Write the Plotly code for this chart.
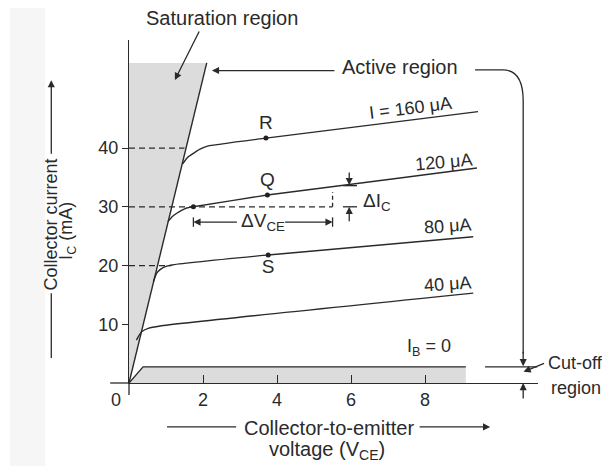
import plotly.graph_objects as go

# ---------------- data ----------------
# saturation boundary line (VCE in V, IC in mA)
vce_sat = [0, 2.1]
ic_sat = [0, 54.5]

# output characteristic curves, one per base current
curve_labels = ["I = 160 μA", "120 μA", "80 μA", "40 μA", "I<sub>B</sub> = 0"]
v_160 = [1.45, 1.58, 1.74, 1.92, 2.1, 3.7, 9.43]
i_160 = [37.3, 38.4, 39.1, 39.8, 40.3, 41.7, 46.2]
v_120 = [1.05, 1.18, 1.29, 1.42, 1.56, 1.74, 3.74, 7.32, 9.4]
i_120 = [27.5, 28.4, 28.9, 29.4, 29.8, 30.0, 32.0, 34.9, 36.6]
v_80 = [0.66, 0.75, 0.84, 0.93, 1.15, 3.76, 9.3]
i_80 = [17.3, 18.7, 19.3, 19.7, 20.1, 21.8, 24.9]
v_40 = [0.2, 0.28, 0.36, 0.52, 0.84, 9.3]
i_40 = [7.3, 8.2, 8.8, 9.3, 9.7, 15.3]
v_0 = [0, 0.38, 9.1]
i_0 = [0, 2.75, 2.75]

# labelled operating points
pt_names = ["R", "Q", "S"]
pt_v = [3.7, 3.74, 3.76]
pt_i = [41.7, 32.0, 21.8]
pt_textpos = ["top center", "top center", "bottom center"]
q_start_v = 1.74
q_start_i = 30.0

# dashed reference levels and where they end
dash_levels = [40, 30, 20]
dash_ends = [1.5, 5.5, 1.15]

# tick values
x_ticks = [2, 4, 6, 8]
y_ticks = [10, 20, 30, 40]

INK = "#2a2a2a"
FILL = "#dcdcdc"
FONT = "Liberation Sans, Arial, Helvetica, sans-serif"

fig = go.Figure()

# saturation region shading
fig.add_trace(go.Scatter(x=[vce_sat[0], vce_sat[1], 0], y=[ic_sat[0], ic_sat[1], ic_sat[1]],
                         fill="toself", fillcolor=FILL, mode="none", hoverinfo="skip"))
# cut-off region shading
fig.add_trace(go.Scatter(x=v_0 + [v_0[-1]], y=i_0 + [0], fill="toself", fillcolor=FILL,
                         mode="none", hoverinfo="skip"))
# saturation boundary line
fig.add_trace(go.Scatter(x=vce_sat, y=ic_sat, mode="lines", line=dict(color=INK, width=1.4)))

# dashed levels
for lvl, end in zip(dash_levels, dash_ends):
    fig.add_trace(go.Scatter(x=[0, end], y=[lvl, lvl], mode="lines",
                             line=dict(color=INK, width=1.3, dash="6px,4px")))

# characteristic curves
for vv, ii in [(v_160, i_160), (v_120, i_120), (v_80, i_80), (v_40, i_40)]:
    fig.add_trace(go.Scatter(x=vv, y=ii, mode="lines", line=dict(color=INK, width=1.4),
                             line_shape="spline", line_smoothing=0.5))
fig.add_trace(go.Scatter(x=v_0, y=i_0, mode="lines", line=dict(color=INK, width=1.4)))

# operating points
fig.add_trace(go.Scatter(x=pt_v, y=pt_i, mode="markers+text", text=pt_names,
                         textposition=pt_textpos, marker=dict(size=5, color="#222"),
                         textfont=dict(size=19, color=INK, family=FONT), cliponaxis=False))
fig.add_trace(go.Scatter(x=[q_start_v], y=[q_start_i], mode="markers",
                         marker=dict(size=5, color="#222")))

shapes = []
annos = []

def pline(x0, y0, x1, y1, ref="data", dash=None, width=1.3):
    d = dict(type="line", x0=x0, y0=y0, x1=x1, y1=y1,
             line=dict(color=INK, width=width, dash=dash))
    if ref == "paper":
        d.update(xref="paper", yref="paper")
    else:
        d.update(xref="x", yref="y")
    shapes.append(d)

def arrow(x, y, ax, ay, ref="data"):
    d = dict(x=x, y=y, ax=ax, ay=ay, text="", showarrow=True, arrowhead=2,
             arrowsize=1.1, arrowwidth=1.3, arrowcolor=INK)
    if ref == "paper":
        d.update(xref="paper", yref="paper")
    annos.append(d)

def text(x, y, s, size=19, ref="data", angle=0, xanchor="center"):
    d = dict(x=x, y=y, text=s, showarrow=False, textangle=angle, xanchor=xanchor,
             yanchor="middle", font=dict(size=size, color=INK, family=FONT))
    if ref == "paper":
        d.update(xref="paper", yref="paper")
    annos.append(d)

# axis overhangs
pline(-0.046, 0, 0, 0, ref="paper")
pline(0, 0, 0, -0.035, ref="paper")

# curve labels
label_pos = [(7.6, 46.9, -7), (8.5, 37.7, -5), (8.6, 26.7, -4), (8.6, 16.8, -4), (8.1, 6.1, 0)]
for lab, (lx, ly, ang) in zip(curve_labels, label_pos):
    text(lx, ly, lab, size=18, angle=ang)

# Delta VCE construction
yv = 27.4
pline(q_start_v, 26.6, q_start_v, 28.2)
pline(5.5, 26.6, 5.5, 28.2)
pline(5.5, 30.0, 5.5, 32.5, dash="4px,3px")
arrow(q_start_v, yv, 45, 0)
arrow(5.5, yv, -49, 0)
text(3.62, yv, "ΔV<sub>CE</sub>", size=19)

# Delta IC construction
pline(5.78, 30.0, 6.16, 30.0)
pline(5.78, 33.6, 6.16, 33.6)
arrow(5.95, 33.7, 0, -14)
arrow(5.95, 30.0, 0, 16)
text(6.28, 30.9, "ΔI<sub>C</sub>", size=19, xanchor="left")

# Saturation region label + arrow
text(0.227, 1.064, "Saturation region", size=20, ref="paper")
arrow(1.24, 51.6, 25, -50)

# Active region label, arrow and bracket
text(7.32, 53.8, "Active region", size=20)
arrow(2.24, 53.2, 124, 0)
shapes.append(dict(type="path", xref="x", yref="y",
                   path="M 9.35,53.3 L 10.1,53.3 Q 10.65,53.3 10.65,48.0 L 10.65,5.0",
                   line=dict(color=INK, width=1.3)))
arrow(10.65, 2.85, 0, -16)

# cut-off region marks
pline(9.62, 2.75, 11.03, 2.75)
arrow(10.65, 0, 0, 17)
arrow(10.66, 1.9, 22, -9)
text(1.019, 0.058, "Cut-off", size=18, ref="paper", xanchor="left")
text(1.026, -0.015, "region", size=18, ref="paper", xanchor="left")

# origin label
text(-0.032, -0.05, "0", size=18, ref="paper")

# y title
text(-0.193, 0.462, "Collector current", size=18, ref="paper", angle=-90)
text(-0.152, 0.443, "I<sub>C</sub> (mA)", size=18, ref="paper", angle=-90)
arrow(-0.190, 0.883, 0, 75, ref="paper")
pline(-0.190, 0.262, -0.190, 0.073, ref="paper")

# x title
text(0.489, -0.132, "Collector-to-emitter", size=20, ref="paper")
text(0.484, -0.198, "voltage (V<sub>CE</sub>)", size=20, ref="paper")
pline(0.093, -0.128, 0.262, -0.128, ref="paper")
arrow(0.883, -0.128, -72, 0, ref="paper")

# faint scan shadow on the left edge
shapes.append(dict(type="rect", xref="paper", yref="paper", x0=-0.291, x1=-0.205,
                   y0=-0.243, y1=1.117, fillcolor="rgba(0,0,0,0.035)", line=dict(width=0),
                   layer="below"))

# the page adds an 8px body margin, so the figure is 8px smaller than the window
fig.update_layout(
    width=605, height=458,
    margin=dict(l=121, r=75, t=32, b=83),
    paper_bgcolor="white", plot_bgcolor="white",
    showlegend=False,
    font=dict(family=FONT, size=18, color=INK),
    shapes=shapes, annotations=annos,
)
fig.update_xaxes(range=[0, 11.05], showgrid=False, zeroline=False, showline=True,
                 linecolor=INK, linewidth=1.4, tickvals=x_ticks, ticks="inside",
                 ticklen=8, tickwidth=1.3, tickcolor=INK, tickfont=dict(size=18, color=INK))
fig.update_yaxes(range=[0, 58.4], showgrid=False, zeroline=False, showline=True,
                 linecolor=INK, linewidth=1.4, tickvals=y_ticks, ticks="outside",
                 ticklen=6, tickwidth=1.3, tickcolor=INK, tickfont=dict(size=18, color=INK))

fig.write_html("out.html")
